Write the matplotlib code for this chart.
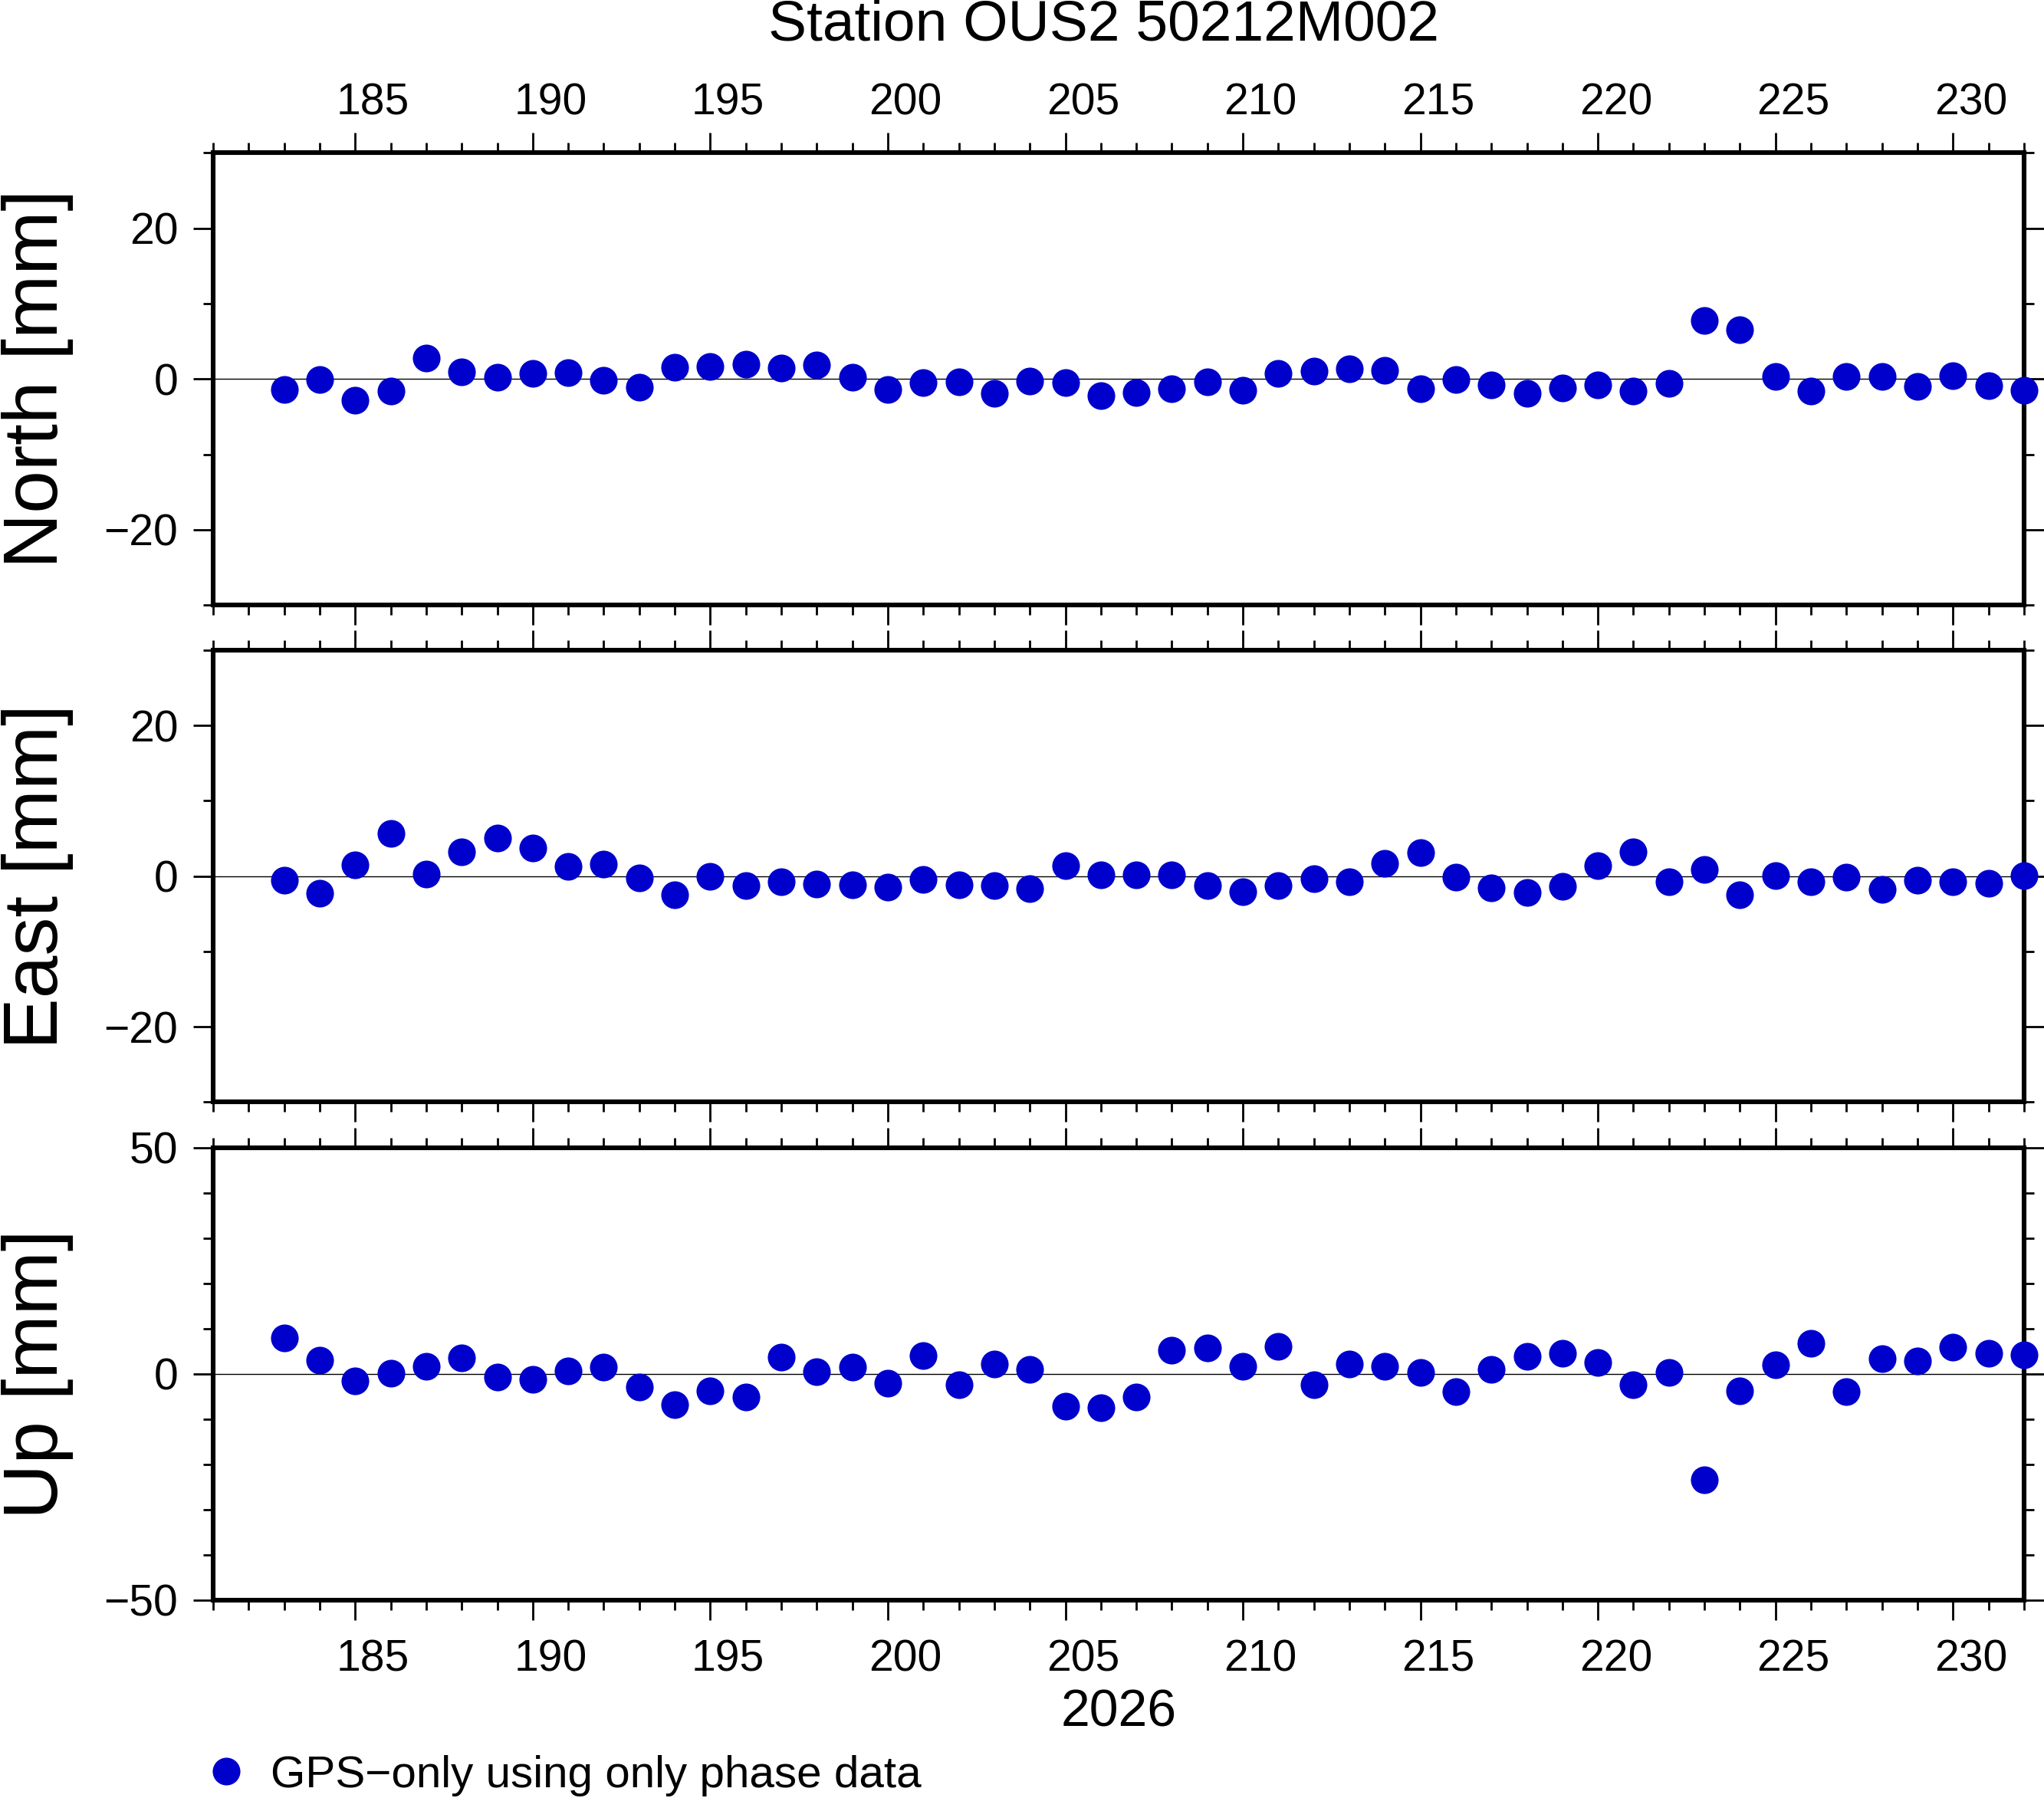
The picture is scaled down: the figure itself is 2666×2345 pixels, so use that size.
import matplotlib
matplotlib.use("Agg")
import matplotlib.pyplot as plt
from matplotlib.ticker import MultipleLocator
from matplotlib.transforms import ScaledTranslation

plt.rcParams['font.family'] = ['Liberation Sans', 'DejaVu Sans']

# day of year 2026
days = list(range(183, 233))

north = [-1.43, -0.13, -2.86, -1.64, 2.73, 0.97, 0.25, 0.76, 0.88, -0.21,
         -1.13, 1.51, 1.60, 1.97, 1.43, 1.81, 0.21, -1.43, -0.50, -0.42,
         -1.93, -0.29, -0.50, -2.23, -1.85, -1.34, -0.42, -1.55, 0.76, 1.01,
         1.30, 1.09, -1.34, -0.13, -0.80, -1.93, -1.22, -0.84, -1.64, -0.63,
         7.77, 6.55, 0.29, -1.64, 0.29, 0.29, -1.01, 0.42, -0.92, -1.47]

east = [-0.51, -2.23, 1.52, 5.61, 0.30, 3.24, 5.07, 3.75, 1.32, 1.62,
        -0.20, -2.53, 0.00, -1.22, -0.71, -1.01, -1.11, -1.42, -0.41, -1.11,
        -1.22, -1.62, 1.42, 0.20, 0.20, 0.20, -1.22, -2.03, -1.22, -0.30,
        -0.71, 1.72, 3.14, -0.10, -1.52, -2.13, -1.32, 1.42, 3.24, -0.71,
        0.91, -2.53, 0.10, -0.71, -0.10, -1.82, -0.51, -0.71, -0.91, 0.10]

up = [7.85, 2.94, -1.64, 0.06, 1.58, 3.45, -0.79, -1.30, 0.56, 1.41,
      -2.99, -6.89, -3.84, -5.20, 3.62, 0.40, 1.41, -2.15, 3.95, -2.49,
      2.09, 0.90, -7.23, -7.57, -5.20, 5.14, 5.65, 1.58, 5.99, -2.49,
      2.09, 1.58, 0.23, -4.01, 0.90, 3.79, 4.46, 2.43, -2.49, 0.23,
      -23.5, -3.84, 1.92, 6.67, -4.01, 3.28, 2.77, 5.82, 4.46, 4.12]

components = ["North [mm]", "East [mm]", "Up [mm]"]
series = [north, east, up]
ylims = [(-30, 30), (-30, 30), (-50, 50)]
ymajor = [20, 20, 50]
yminor = [10, 10, 10]

title = "Station OUS2 50212M002"
year = "2026"
legend_label = "GPS\u2212only using only phase data"
color = "#0000cd"

xlim = (181, 232)

fig = plt.figure(figsize=(13.33, 11.725), dpi=200)
left, width = 0.1043, 0.8859
bottoms = [0.6635, 0.3870, 0.1102]
height = 0.2515

axes = []
for i, (name, vals) in enumerate(zip(components, series)):
    ax = fig.add_axes([left, bottoms[i], width, height])
    axes.append(ax)
    ax.axhline(0, color="black", lw=0.5, zorder=1)
    pts, = ax.plot(days, vals, "o", ms=13, color=color, mec="none",
                   clip_on=False, zorder=5)
    ax.set_xlim(*xlim)
    ax.set_ylim(*ylims[i])
    ax.xaxis.set_major_locator(MultipleLocator(5))
    ax.xaxis.set_minor_locator(MultipleLocator(1))
    ax.yaxis.set_major_locator(MultipleLocator(ymajor[i]))
    ax.yaxis.set_minor_locator(MultipleLocator(yminor[i]))
    for sp in ax.spines.values():
        sp.set_linewidth(2.2)
    ax.tick_params(which="both", direction="out", top=True, bottom=True,
                   left=True, right=True, width=1.0, labelsize=20.5)
    ax.tick_params(which="major", length=9.5)
    ax.tick_params(which="minor", length=4.8)
    ax.tick_params(axis="y", pad=7)
    ax.tick_params(axis="x", pad=9 if i == 2 else 4)
    ax.tick_params(labelbottom=(i == 2), labeltop=(i == 0), labelright=False)
    ax.set_ylabel(name, fontsize=36)
    ax.yaxis.label.set_va("center")
    ax.yaxis.set_label_coords(-0.097, 0.5)

# x annotations sit in the middle of the day interval
half_day = 0.5 * width * fig.get_figwidth() / (xlim[1] - xlim[0])
shift = ScaledTranslation(half_day, 0, fig.dpi_scale_trans)
for ax in (axes[0], axes[2]):
    for lab in ax.get_xticklabels(which="major"):
        lab.set_transform(lab.get_transform() + shift)

axes[2].set_xlabel(year, fontsize=24.5)
axes[2].xaxis.set_label_coords(0.5, -0.195)

fig.text(0.540, 0.986, title, ha="center", va="center", fontsize=27)

fig.legend([pts], [legend_label], loc="center left",
           bbox_to_anchor=(0.091, 0.0125), frameon=False, fontsize=21,
           handlelength=0.8, handletextpad=0.6, borderpad=0, numpoints=1)

fig.savefig("out.png", dpi=200)
